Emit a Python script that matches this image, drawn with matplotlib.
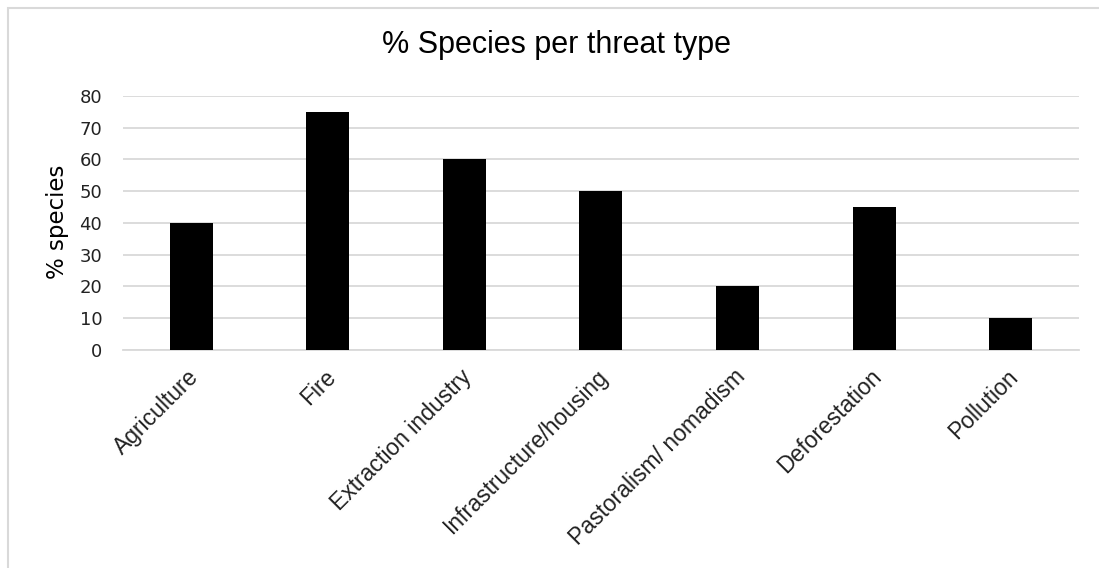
import matplotlib.pyplot as plt
import matplotlib.patches as mpatches
import matplotlib.transforms as mtrans
import numpy as np

plt.rcParams['font.family'] = ['Liberation Sans', 'DejaVu Sans']

categories = ['Agriculture', 'Fire', 'Extraction industry', 'Infrastructure/housing',
              'Pastoralism/ nomadism', 'Deforestation', 'Pollution']
values = [40, 75, 60, 50, 20, 45, 10]
yticks = [0, 10, 20, 30, 40, 50, 60, 70, 80]

fig = plt.figure(figsize=(10.99, 5.68), dpi=100)
ax = fig.add_axes([0.1119, 0.3838, 0.8699, 0.4472])

x = np.arange(len(categories))
ax.bar(x, values, width=0.315, color='black', zorder=3)
ax.set_xlim(-0.5, len(categories) - 0.5)
ax.set_ylim(0, 80)
ax.set_yticks(yticks)
ax.grid(axis='y', color='#d9d9d9', linewidth=1.3, zorder=0)
for s in ['top', 'right', 'left']:
    ax.spines[s].set_visible(False)
ax.spines['bottom'].set_color('#d9d9d9')
ax.spines['bottom'].set_linewidth(1.3)
ax.tick_params(axis='both', length=0, colors='#222222')
ax.tick_params(axis='y', pad=15)
for lab in ax.get_yticklabels():
    lab.set_fontfamily('DejaVu Sans')
    lab.set_fontsize(13)
ax.set_xticks(x)
ax.set_xticklabels(categories, rotation=45, ha='right', rotation_mode='anchor', fontsize=16.5)
ax.tick_params(axis='x', pad=11)
# nudge the slanted labels a little to the left, as in the original
shift = mtrans.ScaledTranslation(-4 / 100, 0, fig.dpi_scale_trans)
for lab in ax.get_xticklabels():
    lab.set_transform(lab.get_transform() + shift)
ax.set_ylabel('% species', fontsize=16.5, family='DejaVu Sans', va='center')
ax.yaxis.set_label_coords(-0.068, 0.506)

fig.text(557 / 1099, 1 - 45 / 568, '% Species per threat type', ha='center', va='center', fontsize=22)

fig.patches.append(mpatches.Rectangle((8 / 1099, -0.05), 1.2, 1 - 8 / 568 + 0.05,
                                      transform=fig.transFigure, fill=False,
                                      edgecolor='#d9d9d9', linewidth=1.5))

fig.savefig('out.png', dpi=100)
